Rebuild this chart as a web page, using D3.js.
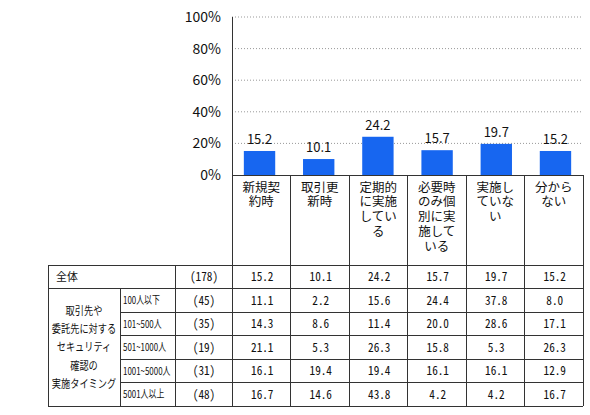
<!DOCTYPE html>
<html><head><meta charset="utf-8">
<script src="https://cdn.jsdelivr.net/npm/d3@7/dist/d3.min.js"></script>
<style>body{margin:0;background:#fff}svg{display:block}</style>
</head><body>
<svg id="c" width="590" height="415"></svg>
<script>
const categories = ["新規契約時","取引更新時","定期的に実施している","必要時のみ個別に実施している","実施していない","分からない"];
const categoryLines = [["新規契","約時"],["取引更","新時"],["定期的","に実施","してい","る"],["必要時","のみ個","別に実","施して","いる"],["実施し","ていな","い"],["分から","ない"]];
const overallLabel = "全体";
const overallN = 178;
const overallValues = [15.2,10.1,24.2,15.7,19.7,15.2];
const groupLabelLines = ["取引先や","委託先に対する","セキュリティ","確認の","実施タイミング"];
const sizeLabels = ["100人以下","101~500人","501~1000人","1001~5000人","5001人以上"];
const sizeN = [45,35,19,31,48];
const sizeValues = [
  [11.1,2.2,15.6,24.4,37.8,8.0],
  [14.3,8.6,11.4,20.0,28.6,17.1],
  [21.1,5.3,26.3,15.8,5.3,26.3],
  [16.1,19.4,19.4,16.1,16.1,12.9],
  [16.7,14.6,43.8,4.2,4.2,16.7]
];
const yTicks = [0,20,40,60,80,100];

const svg = d3.select("#c");
const jp = "'Noto Sans CJK JP','Noto Sans',sans-serif";
const mono = "'Noto Sans Mono CJK JP','Liberation Mono',monospace";
const lineCol = "#333";
const txtCol = "#111";

const x = d3.scaleBand().domain(categories).range([232, 583]);
const xb = d3.scaleBand().domain(categories).range([232, 583]).paddingInner(0.47).paddingOuter(0.2);
const y = d3.scaleLinear().domain([0,100]).range([175, 17]);

// gridlines
svg.append("g").selectAll("line").data(yTicks.filter(d=>d>0)).join("line")
  .attr("x1", 232).attr("x2", 581).attr("y1", d=>y(d)).attr("y2", d=>y(d))
  .attr("stroke", "#999").attr("stroke-width", 1).attr("stroke-dasharray", "1,2");

// y tick labels
svg.append("g").selectAll("text").data(yTicks).join("text")
  .attr("x", 221).attr("y", d=>y(d)).attr("dy", "0.36em")
  .attr("text-anchor", "end").attr("font-family", jp).attr("font-size", 14).attr("fill", txtCol)
  .text(d=>d+"%");

// bars
svg.append("g").selectAll("rect").data(overallValues).join("rect")
  .attr("x", (d,i)=>xb(categories[i])).attr("width", xb.bandwidth())
  .attr("y", d=>y(d)).attr("height", d=>y(0)-y(d)).attr("fill", "#1766f0");

// value labels
svg.append("g").selectAll("text").data(overallValues).join("text")
  .attr("x", (d,i)=>xb(categories[i])+xb.bandwidth()/2).attr("y", d=>y(d)-7)
  .attr("text-anchor", "middle").attr("font-family", jp).attr("font-size", 13).attr("fill", txtCol)
  .text(d=>d.toFixed(1));

// category labels (one text per category, lines as tspans)
const cg = svg.append("g");
categoryLines.forEach((lines,i)=>{
  const cx = x(categories[i])+x.bandwidth()/2;
  const t = cg.append("text").attr("text-anchor","middle").attr("font-family", jp)
    .attr("font-size", 12.5).attr("fill", txtCol);
  lines.forEach((ln,j)=>{
    t.append("tspan").attr("x", cx).attr("y", 187 + j*14.8).attr("dy","0.36em").text(ln);
  });
});

// table rows
const rowKeys = ["all"].concat(sizeLabels);
const r = d3.scaleBand().domain(rowKeys).range([265, 406]);

const grid = svg.append("g").attr("stroke", lineCol).attr("stroke-width", 1).attr("shape-rendering","crispEdges");
grid.append("line").attr("x1", 232).attr("x2", 583).attr("y1", y(0)).attr("y2", y(0));
grid.append("line").attr("x1", 232).attr("x2", 232).attr("y1", y(100)).attr("y2", 406);
categories.forEach(c=>{
  const xr = x(c)+x.bandwidth();
  grid.append("line").attr("x1", xr).attr("x2", xr).attr("y1", y(0)).attr("y2", 406);
});
grid.append("line").attr("x1", 48).attr("x2", 583).attr("y1", r("all")).attr("y2", r("all"));
grid.append("line").attr("x1", 48).attr("x2", 583).attr("y1", r("all")+r.bandwidth()).attr("y2", r("all")+r.bandwidth());
sizeLabels.slice(1).forEach(s=>{
  grid.append("line").attr("x1", 120).attr("x2", 583).attr("y1", r(s)).attr("y2", r(s));
});
grid.append("line").attr("x1", 48).attr("x2", 583).attr("y1", 406).attr("y2", 406);
grid.append("line").attr("x1", 48).attr("x2", 48).attr("y1", 265).attr("y2", 406);
grid.append("line").attr("x1", 120).attr("x2", 120).attr("y1", r(sizeLabels[0])).attr("y2", 406);
grid.append("line").attr("x1", 175).attr("x2", 175).attr("y1", 265).attr("y2", 406);

const tg = svg.append("g").attr("fill", txtCol);
function narrow(txt, cx, cy, size, family, sx, anchor){
  tg.append("text").attr("transform", `translate(${cx},${cy}) scale(${sx},1)`)
    .attr("dy","0.36em").attr("text-anchor", anchor||"middle")
    .attr("font-family", family).attr("font-size", size).text(txt);
}
const nCx = 204;
const rc = k => r(k)+r.bandwidth()/2;
narrow(overallLabel, 56, rc("all"), 11.5, jp, 0.95, "start");
narrow("("+overallN+")", nCx, rc("all"), 12.5, mono, 0.9);
overallValues.forEach((v,i)=>narrow(v.toFixed(1), x(categories[i])+x.bandwidth()/2+1, rc("all"), 12.5, mono, 0.9));
// group label: single text with tspans
const gMid = (r(sizeLabels[0])+406)/2;
const gt = tg.append("text").attr("transform", `translate(84,${gMid}) scale(0.8,1)`)
  .attr("text-anchor","middle").attr("font-family", jp).attr("font-size", 11.5);
groupLabelLines.forEach((ln,j)=>{
  gt.append("tspan").attr("x", 0).attr("y", (j-2)*18.3).attr("dy","0.36em").text(ln);
});
sizeLabels.forEach((s,k)=>{
  narrow(s, 123, rc(s), 11, jp, 0.72, "start");
  narrow("("+sizeN[k]+")", nCx, rc(s), 12.5, mono, 0.9);
  sizeValues[k].forEach((v,i)=>narrow(v.toFixed(1), x(categories[i])+x.bandwidth()/2+1, rc(s), 12.5, mono, 0.9));
});
</script>
</body></html>
